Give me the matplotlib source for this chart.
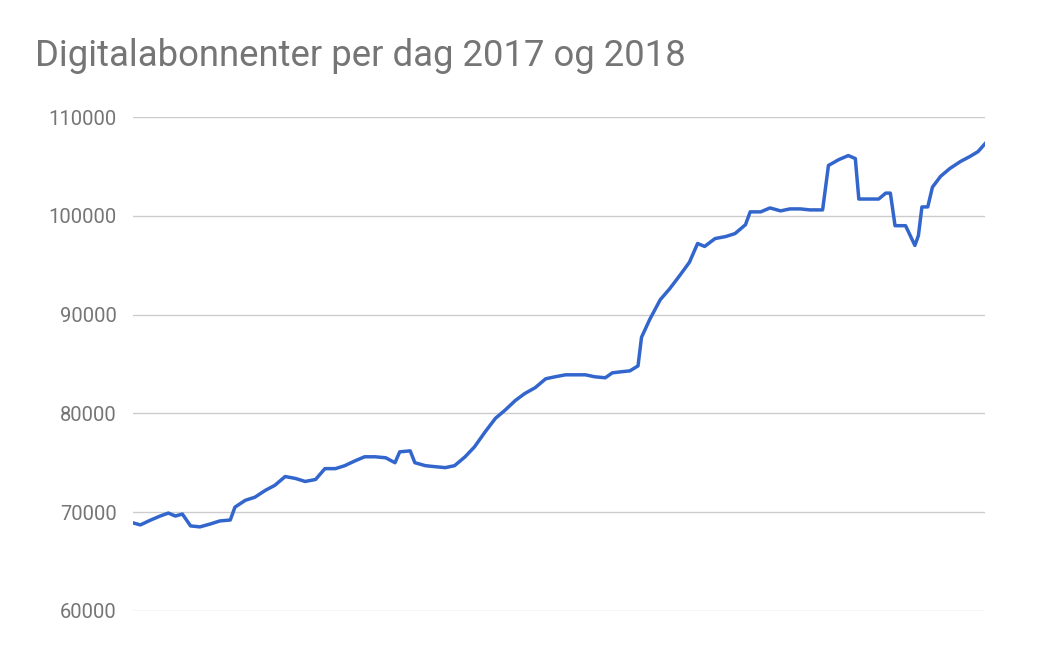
import matplotlib.pyplot as plt

# dag-indeks (0..729) og antall digitalabonnenter, lest av figuren
dag = [0, 6, 15, 23, 30, 36, 42, 49, 57, 66, 74, 83, 87, 96, 104, 113, 121, 130,
       139, 147, 156, 164, 173, 181, 190, 198, 207, 216, 224, 228, 237, 241, 250,
       258, 267, 275, 284, 292, 301, 310, 318, 327, 335, 344, 353, 361, 370, 378,
       387, 395, 404, 410, 417, 425, 432, 435, 442, 451, 459, 468, 476, 483, 489,
       498, 507, 515, 524, 528, 537, 545, 554, 562, 571, 579, 590, 595, 604, 612,
       618, 621, 629, 638, 644, 648, 652, 661, 669, 672, 675, 680, 684, 691, 699,
       708, 716, 723, 729]
abonnenter = [68900, 68700, 69200, 69600, 69900, 69600, 69800, 68600, 68500, 68800,
              69100, 69200, 70500, 71200, 71500, 72200, 72700, 73600, 73400, 73100,
              73300, 74400, 74400, 74700, 75200, 75600, 75600, 75500, 75000, 76100,
              76200, 75000, 74700, 74600, 74500, 74700, 75600, 76600, 78100, 79500,
              80300, 81300, 82000, 82600, 83500, 83700, 83900, 83900, 83900, 83700,
              83600, 84100, 84200, 84300, 84800, 87700, 89500, 91500, 92600, 94000,
              95300, 97200, 96900, 97700, 97900, 98200, 99100, 100400, 100400, 100800,
              100500, 100700, 100700, 100600, 100600, 105100, 105700, 106100, 105800,
              101700, 101700, 101700, 102300, 102300, 99000, 99000, 97000, 98000,
              100900, 100900, 102900, 104000, 104800, 105500, 106000, 106500, 107300]

plt.rcParams['font.family'] = ['Roboto', 'DejaVu Sans']
fig = plt.figure(figsize=(10.58, 6.54), dpi=100)
ax = fig.add_axes([0.126, 0.066, 0.805, 0.755])
ax.plot(dag, abonnenter, color='#3366cc', lw=2.5)
ax.set_ylim(60000, 110000)
ax.set_xlim(dag[0], dag[-1])
ax.set_yticks(range(60000, 110001, 10000))
ax.grid(axis='y', color='#cccccc', lw=1)
ax.set_xticks([])
for s in ax.spines.values():
    s.set_visible(False)
ax.tick_params(axis='y', length=0, labelsize=14.5, labelcolor='#757575', pad=12)
fig.text(0.033, 0.915, 'Digitalabonnenter per dag 2017 og 2018', fontsize=26.3,
         color='#757575', va='center')
fig.savefig('out.png')
